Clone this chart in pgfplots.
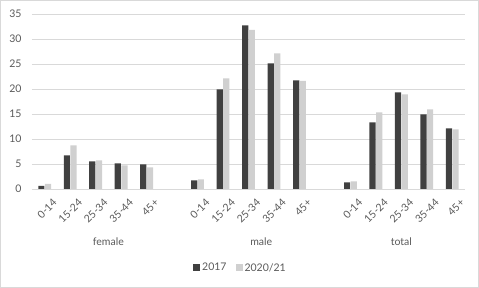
\documentclass[border=0pt]{standalone}
\usepackage{pgfplots}
\pgfplotsset{compat=1.18}
\usepackage{fontspec}
\setmainfont{Lato}
\definecolor{dark}{HTML}{404040}
\definecolor{light}{HTML}{D0D0D0}
\definecolor{gridc}{HTML}{D9D9D9}
\definecolor{txt}{HTML}{595959}
\newcommand\cf{\fontsize{10.5bp}{12bp}\selectfont}
\begin{document}
\begin{tikzpicture}[x=1bp,y=1bp]
\draw[gridc, line width=0.9bp] (0.5,0.5) rectangle (478.5,287.5);
\begin{axis}[
  at={(32bp,99bp)}, anchor=south west,
  scale only axis, width=433bp, height=175bp,
  xmin=-0.5, xmax=16.5, ymin=0, ymax=35,
  ytick={0,5,...,35},
  xtick={0,1,2,3,4,6,7,8,9,10,12,13,14,15,16},
  xticklabels={0-14,15-24,25-34,35-44,45+,0-14,15-24,25-34,35-44,45+,0-14,15-24,25-34,35-44,45+},
  ymajorgrids, grid style={gridc, line width=0.9bp},
  axis line style={draw=none}, tick style={draw=none},
  /pgf/number format/assume math mode=true,
  ticklabel style={font=\cf, text=txt},
  yticklabel style={xshift=-7bp},
  xticklabel style={rotate=45, anchor=east, inner sep=0pt, xshift=2bp, yshift=-12.5bp},
  clip=false,
  ybar, bar width=6.2bp,
  legend style={at={(0.4815,-0.451)}, anchor=center, draw=none, fill=none,
    font=\cf, text=txt, legend columns=2,
    /tikz/every even column/.append style={column sep=7bp}},
  legend image code/.code={\fill[#1,draw=none] (0bp,-3.5bp) rectangle (7bp,3.5bp);},
]
\addplot[fill=dark, draw=none, bar shift=-3.3bp] coordinates {
 (0,0.6) (1,6.7) (2,5.5) (3,5.1) (4,4.9)
 (6,1.7) (7,19.9) (8,32.7) (9,25.1) (10,21.7)
 (12,1.3) (13,13.3) (14,19.3) (15,14.9) (16,12.1)};
\addplot[fill=light, draw=none, bar shift=3.3bp] coordinates {
 (0,1.0) (1,8.7) (2,5.7) (3,4.7) (4,4.3)
 (6,1.9) (7,22.1) (8,31.8) (9,27.1) (10,21.6)
 (12,1.5) (13,15.3) (14,18.9) (15,15.9) (16,11.9)};
\legend{2017,2020/21}
\node[font=\cf, text=txt] at (axis cs:2.5,0) [yshift=-52.7bp] {female};
\node[font=\cf, text=txt] at (axis cs:8.5,0) [yshift=-52.7bp] {male};
\node[font=\cf, text=txt] at (axis cs:14,0) [yshift=-52.7bp] {total};
\end{axis}
\end{tikzpicture}
\end{document}
